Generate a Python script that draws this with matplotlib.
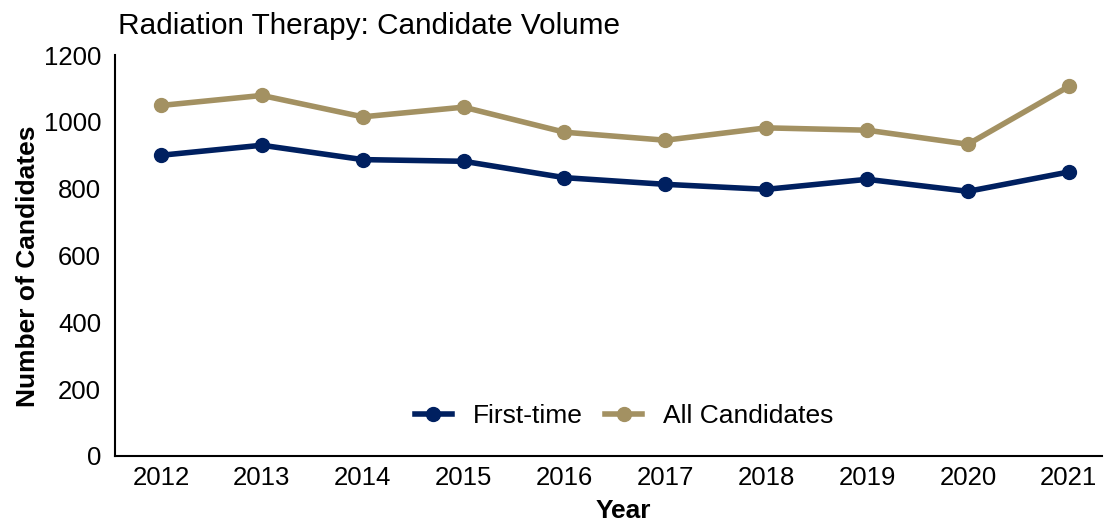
import matplotlib
matplotlib.use('Agg')
import matplotlib.pyplot as plt

# dados
anos = [2012, 2013, 2014, 2015, 2016, 2017, 2018, 2019, 2020, 2021]
first_time = [900, 930, 887, 882, 833, 813, 798, 828, 792, 850]
all_candidates = [1049, 1079, 1015, 1044, 969, 945, 982, 975, 933, 1106]

plt.rcParams['font.family'] = ['Liberation Sans', 'DejaVu Sans']

fig = plt.figure(figsize=(11.04, 5.24), dpi=100)
ax = fig.add_axes([0.1042, 0.1298, 0.8938, 0.7652])

ax.plot(anos, first_time, color='#002060', linewidth=4, marker='o', markersize=10,
        label='First-time')
ax.plot(anos, all_candidates, color='#A39162', linewidth=4, marker='o', markersize=10,
        label='All Candidates')

ax.set_xlim(2011.544, 2021.327)
ax.set_ylim(0, 1200)
ax.set_xticks(anos)
ax.set_yticks(range(0, 1201, 200))
ax.tick_params(axis='both', length=0, labelsize=18.5)
ax.tick_params(axis='x', pad=7)
ax.tick_params(axis='y', pad=10)

for s in ['top', 'right']:
    ax.spines[s].set_visible(False)
for s in ['left', 'bottom']:
    ax.spines[s].set_linewidth(1.5)

ax.set_xlabel('Year', fontsize=19, fontweight='bold')
ax.set_ylabel('Number of Candidates', fontsize=19, fontweight='bold')
ax.xaxis.set_label_coords(0.515, -0.108)
ax.yaxis.set_label_coords(-0.076, 0.474)

fig.text(118 / 1104, 1 - 26 / 524, 'Radiation Therapy: Candidate Volume', fontsize=21.4,
         ha='left', va='center')

ax.legend(loc='center', bbox_to_anchor=(0.516, 0.1), ncol=2, frameon=False, fontsize=19,
          handlelength=1.4, columnspacing=0.85, handletextpad=0.8)

fig.savefig('out.png', dpi=100)
